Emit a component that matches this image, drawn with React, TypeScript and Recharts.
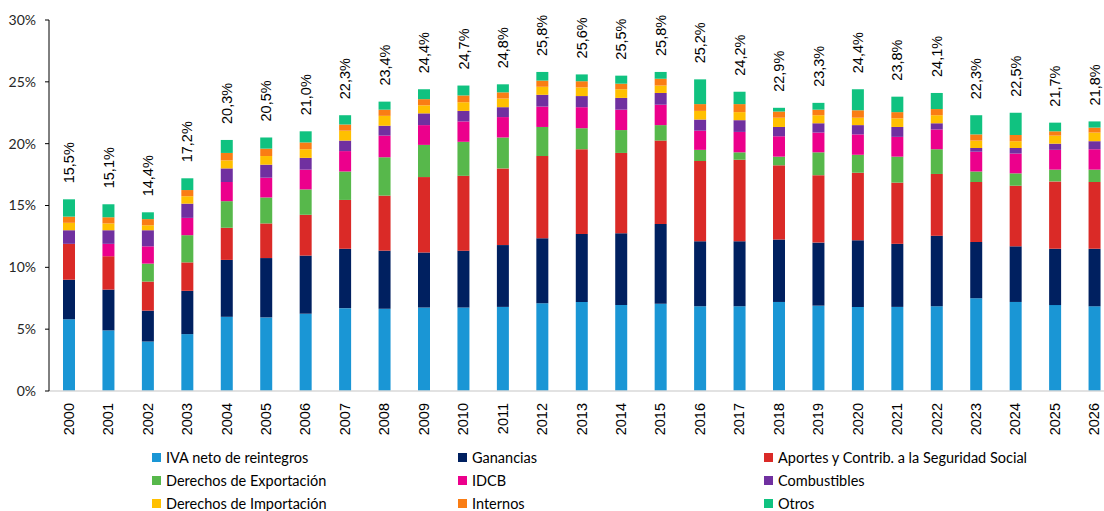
import { BarChart, Bar, XAxis, YAxis, LabelList } from 'recharts'

const years = [
  '2000', '2001', '2002', '2003', '2004', '2005', '2006', '2007', '2008', '2009',
  '2010', '2011', '2012', '2013', '2014', '2015', '2016', '2017', '2018', '2019',
  '2020', '2021', '2022', '2023', '2024', '2025', '2026',
]

// % del PIB por concepto
const iva = [5.8, 4.9, 4.0, 4.6, 6.0, 5.95, 6.25, 6.7, 6.65, 6.75, 6.75, 6.8, 7.1, 7.2, 6.95, 7.05, 6.85, 6.85, 7.2, 6.9, 6.8, 6.8, 6.85, 7.5, 7.2, 6.95, 6.85]
const ganancias = [3.2, 3.3, 2.5, 3.5, 4.6, 4.8, 4.7, 4.8, 4.7, 4.45, 4.6, 5.0, 5.25, 5.5, 5.8, 6.45, 5.25, 5.25, 5.05, 5.1, 5.4, 5.1, 5.7, 4.55, 4.5, 4.55, 4.65]
const seguridad = [2.9, 2.7, 2.35, 2.3, 2.6, 2.8, 3.3, 3.95, 4.45, 6.1, 6.05, 6.2, 6.65, 6.85, 6.5, 6.75, 6.5, 6.6, 6.0, 5.45, 5.45, 4.95, 5.0, 4.85, 4.9, 5.45, 5.4]
const exportacion = [0, 0, 1.45, 2.2, 2.15, 2.1, 2.05, 2.3, 3.1, 2.6, 2.75, 2.5, 2.35, 1.7, 1.85, 1.25, 0.9, 0.6, 0.7, 1.85, 1.45, 2.1, 2.0, 0.85, 1.0, 0.95, 1.0]
const idcb = [0, 1.0, 1.4, 1.4, 1.55, 1.6, 1.6, 1.65, 1.75, 1.6, 1.65, 1.65, 1.65, 1.7, 1.65, 1.65, 1.55, 1.65, 1.65, 1.6, 1.65, 1.6, 1.6, 1.6, 1.6, 1.6, 1.65]
const combustibles = [1.1, 1.1, 1.3, 1.15, 1.1, 1.05, 0.95, 0.85, 0.8, 0.95, 0.85, 0.8, 0.95, 0.9, 0.95, 0.95, 0.9, 0.95, 0.75, 0.75, 0.75, 0.8, 0.5, 0.3, 0.45, 0.5, 0.65]
const importacion = [0.6, 0.55, 0.4, 0.6, 0.65, 0.7, 0.7, 0.8, 0.8, 0.65, 0.7, 0.7, 0.65, 0.7, 0.7, 0.6, 0.7, 0.65, 0.75, 0.65, 0.6, 0.7, 0.65, 0.6, 0.55, 0.65, 0.7]
const internos = [0.5, 0.5, 0.5, 0.5, 0.6, 0.6, 0.55, 0.5, 0.5, 0.5, 0.55, 0.5, 0.5, 0.5, 0.45, 0.55, 0.55, 0.65, 0.5, 0.45, 0.6, 0.5, 0.5, 0.5, 0.5, 0.35, 0.4]
const otros = [1.4, 1.05, 0.55, 0.95, 1.05, 0.9, 0.9, 0.75, 0.65, 0.8, 0.8, 0.65, 0.7, 0.55, 0.65, 0.55, 2.0, 1.0, 0.3, 0.55, 1.7, 1.25, 1.3, 1.55, 1.8, 0.7, 0.5]
const totals = [15.5, 15.1, 14.4, 17.2, 20.3, 20.5, 21.0, 22.3, 23.4, 24.4, 24.7, 24.8, 25.8, 25.6, 25.5, 25.8, 25.2, 24.2, 22.9, 23.3, 24.4, 23.8, 24.1, 22.3, 22.5, 21.7, 21.8]

const yTicks = [0, 5, 10, 15, 20, 25, 30]

const series = [
  { key: 'iva', name: 'IVA neto de reintegros', color: '#1A96D5', values: iva },
  { key: 'ganancias', name: 'Ganancias', color: '#002060', values: ganancias },
  { key: 'seguridad', name: 'Aportes y Contrib. a la Seguridad Social', color: '#DA2A27', values: seguridad },
  { key: 'exportacion', name: 'Derechos de Exportación', color: '#57B84B', values: exportacion },
  { key: 'idcb', name: 'IDCB', color: '#EC008C', values: idcb },
  { key: 'combustibles', name: 'Combustibles', color: '#7030A0', values: combustibles },
  { key: 'importacion', name: 'Derechos de Importación', color: '#FFC000', values: importacion },
  { key: 'internos', name: 'Internos', color: '#FA7D14', values: internos },
  { key: 'otros', name: 'Otros', color: '#10C280', values: otros },
]

const data = years.map((year, i) => {
  const row: Record<string, string | number> = { year, total: totals[i] }
  for (const s of series) row[s.key] = s.values[i]
  return row
})

const YearTick = ({ x, y, payload }: any) => (
  <g transform={`translate(${x},${y + 12}) rotate(-90)`}>
    <text x={0} y={0} dy="0.35em" textAnchor="end" fontSize={14.5} fill="#000" fontFamily="'Liberation Sans', Arial, sans-serif">
      {payload.value}
    </text>
  </g>
)

const TotalLabel = ({ x, y, width, value }: any) => (
  <g transform={`translate(${Number(x) + Number(width) / 2},${Number(y) - 16}) rotate(-90)`}>
    <text x={0} y={0} dy="0.35em" textAnchor="start" fontSize={14.5} fill="#000" fontFamily="'Liberation Sans', Arial, sans-serif">
      {`${Number(value).toFixed(1).replace('.', ',')}%`}
    </text>
  </g>
)

const legendCols = [152, 458, 764]
const legendRows = [457, 480, 503]

export default function App() {
  return (
    <div style={{ position: 'absolute', left: 0, top: 0, width: 1104, height: 511, overflow: 'hidden', background: '#fff' }}>
      <BarChart width={1114} height={445} data={data} margin={{ top: 20, right: 0, bottom: 0, left: 0 }}>
        <XAxis
          dataKey="year"
          height={54}
          interval={0}
          tickLine={false}
          tickSize={0}
          tickMargin={0}
          stroke="#d9d9d9"
          strokeWidth={1.5}
          tick={<YearTick />}
        />
        <YAxis
          width={49}
          domain={[0, 30]}
          ticks={yTicks}
          interval={0}
          stroke="#000"
          tickSize={4}
          tickMargin={9}
          tick={{ fontSize: 14, fill: '#262626', fontFamily: 'Lato, sans-serif' }}
          tickFormatter={(v: number) => `${v}%`}
        />
        {series.map((s, i) => (
          <Bar key={s.key} dataKey={s.key} stackId="a" fill={s.color} barSize={12} isAnimationActive={false}>
            {i === series.length - 1 && <LabelList dataKey="total" content={<TotalLabel />} />}
          </Bar>
        ))}
      </BarChart>
      {series.map((s, i) => (
        <div
          key={s.key}
          style={{
            position: 'absolute',
            left: legendCols[i % 3],
            top: legendRows[Math.floor(i / 3)] - 10,
            height: 20,
            display: 'flex',
            alignItems: 'center',
            fontFamily: 'Lato, sans-serif',
            fontSize: 14.5,
            color: '#000',
            whiteSpace: 'nowrap',
          }}
        >
          <span style={{ width: 9, height: 9, background: s.color, marginRight: 5, display: 'inline-block' }} />
          {s.name}
        </div>
      ))}
    </div>
  )
}
